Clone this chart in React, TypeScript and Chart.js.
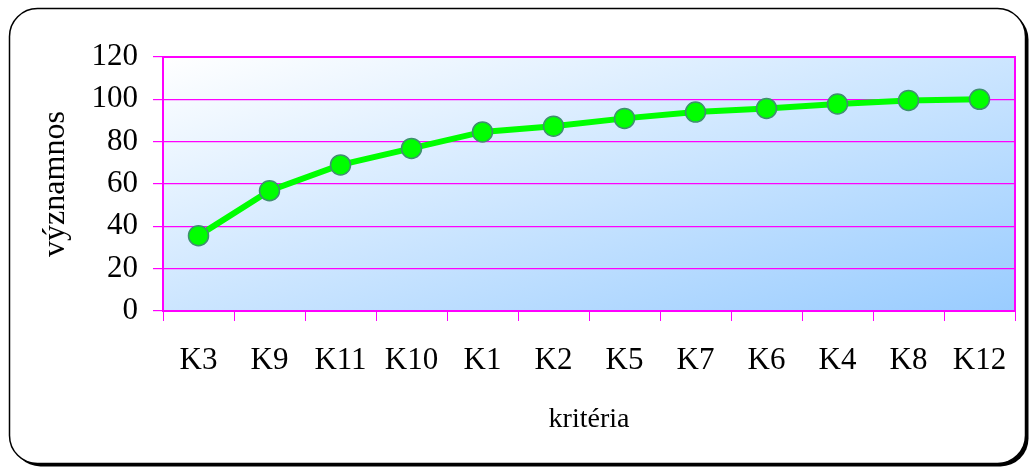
import React, { useEffect, useRef } from "react";
import { Chart, registerables } from "chart.js";

Chart.register(...registerables);

// Criteria in display order and their cumulative significance
const criteria = ["K3", "K9", "K11", "K10", "K1", "K2", "K5", "K7", "K6", "K4", "K8", "K12"];
const significance = [35.6, 56.8, 69.0, 76.8, 84.6, 87.3, 91.0, 94.0, 95.7, 97.8, 99.5, 100];
const yTickValues = [0, 20, 40, 60, 80, 100, 120];

const yTitle = "významnos";
const xTitle = "kritéria";

const SERIF = '"Liberation Serif", "Times New Roman", serif';
const MAGENTA = "#ff00ff";

function roundRectPath(ctx: CanvasRenderingContext2D, x: number, y: number, w: number, h: number, r: number) {
  ctx.beginPath();
  ctx.moveTo(x + r, y);
  ctx.lineTo(x + w - r, y);
  ctx.arcTo(x + w, y, x + w, y + r, r);
  ctx.lineTo(x + w, y + h - r);
  ctx.arcTo(x + w, y + h, x + w - r, y + h, r);
  ctx.lineTo(x + r, y + h);
  ctx.arcTo(x, y + h, x, y + h - r, r);
  ctx.lineTo(x, y + r);
  ctx.arcTo(x, y, x + r, y, r);
  ctx.closePath();
}

// Rounded frame with a drop shadow, plus the gradient plot background
const backdrop = {
  id: "backdrop",
  beforeDraw(chart: any) {
    const { ctx, chartArea } = chart;
    ctx.save();
    const fx = 9.5, fy = 8.5, fw = 1016, fh = 455, fr = 28;
    roundRectPath(ctx, fx + 3, fy + 3, fw, fh, fr);
    ctx.fillStyle = "#000";
    ctx.fill();
    roundRectPath(ctx, fx, fy, fw, fh, fr);
    ctx.fillStyle = "#fff";
    ctx.fill();
    ctx.lineWidth = 1.5;
    ctx.strokeStyle = "#000";
    ctx.stroke();

    const { left, top, right, bottom } = chartArea;
    const w = right - left;
    const h = bottom - top;
    const t = (2 * w * h) / (w * w + h * h);
    const g = ctx.createLinearGradient(left, top, left + t * h, top + t * w);
    g.addColorStop(0, "#ffffff");
    g.addColorStop(1, "#99ccff");
    ctx.fillStyle = g;
    ctx.fillRect(left, top, w, h);
    ctx.restore();
  },
  beforeDatasetsDraw(chart: any) {
    const { ctx, chartArea } = chart;
    const { left, top, right, bottom } = chartArea;
    ctx.save();
    ctx.strokeStyle = MAGENTA;
    ctx.lineWidth = 2;
    ctx.beginPath();
    ctx.moveTo(left, top);
    ctx.lineTo(right, top);
    ctx.lineTo(right, bottom);
    ctx.stroke();
    ctx.restore();
  },
};

export default function App() {
  const canvasRef = useRef<HTMLCanvasElement | null>(null);

  useEffect(() => {
    if (!canvasRef.current) return;
    const chart = new Chart(canvasRef.current, {
      type: "line",
      data: {
        labels: criteria,
        datasets: [
          {
            data: significance,
            borderColor: "#00ff00",
            borderWidth: 6,
            pointRadius: 10,
            pointHoverRadius: 10,
            pointBackgroundColor: "#00ff00",
            pointBorderColor: "#3f8f6f",
            pointBorderWidth: 1.5,
            tension: 0,
            fill: false,
          },
        ],
      },
      options: {
        animation: false,
        responsive: false,
        devicePixelRatio: 1,
        layout: { padding: { left: 8, right: 14, top: 57, bottom: 0 } },
        plugins: {
          legend: { display: false },
          tooltip: { enabled: false },
        },
        scales: {
          x: {
            type: "category",
            offset: true,
            grid: {
              offset: true,
              drawOnChartArea: false,
              drawTicks: true,
              tickLength: 10,
              color: MAGENTA,
              lineWidth: 1,
            },
            border: { display: true, color: MAGENTA, width: 2 },
            ticks: {
              color: "#000",
              font: { family: SERIF, size: 31 },
              padding: 21,
              maxRotation: 0,
              autoSkip: false,
            },
            title: {
              display: true,
              text: xTitle,
              color: "#000",
              font: { family: SERIF, size: 28 },
              padding: { top: 0, bottom: 32 },
            },
            afterFit(scale: any) {
              scale.height = 157;
            },
          },
          y: {
            min: 0,
            max: 120,
            afterBuildTicks(scale: any) {
              scale.ticks = yTickValues.map((v) => ({ value: v }));
            },
            grid: {
              color: MAGENTA,
              lineWidth: 1.2,
              tickLength: 10,
              drawTicks: true,
            },
            border: { display: true, color: MAGENTA, width: 2 },
            ticks: {
              color: "#000",
              font: { family: SERIF, size: 31 },
              padding: 15,
            },
            title: {
              display: true,
              text: yTitle,
              color: "#000",
              font: { family: SERIF, size: 32 },
              padding: { top: 28, bottom: 0 },
            },
            afterFit(scale: any) {
              scale.width = 155;
            },
          },
        },
      },
      plugins: [backdrop],
    });
    return () => chart.destroy();
  }, []);

  return (
    <div style={{ position: "fixed", left: 0, top: 0, width: 1029, height: 468, background: "#fff" }}>
      <canvas ref={canvasRef} width={1029} height={468} />
    </div>
  );
}
